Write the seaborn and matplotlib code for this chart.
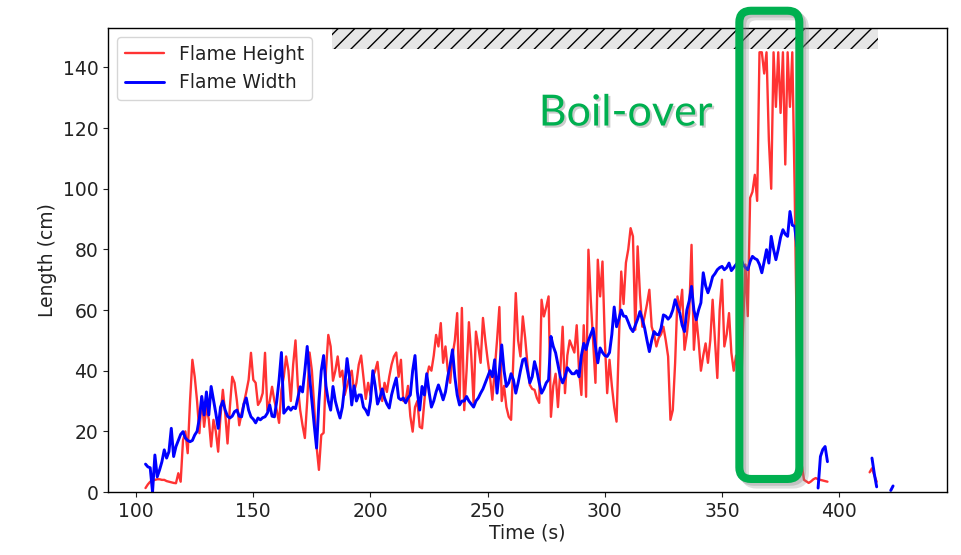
import numpy as np
import pandas as pd
import seaborn as sns
from matplotlib import pyplot as plt
from matplotlib import patheffects as pe
from matplotlib.patches import FancyBboxPatch, Rectangle
from matplotlib.lines import Line2D

# flame height (cm), one sample per second, segments split by gaps
height_a_start = 104
height_a = [1.3, 2.5, 3.4, 3.8, 4, 4.2,
            4.2, 4, 4, 3.6, 3.4, 3.2, 3, 2.9, 6.2, 3.4,
            17, 20, 12.8, 30, 43.6, 38, 30, 19.4, 31.5, 21.5,
            28, 24, 15, 23.8, 20, 13.3, 25, 33.7, 26, 16,
            28, 38, 36, 30, 22, 26, 29.4, 33, 37, 45.9,
            37, 36, 28.7, 30, 32.6, 45.9, 27, 30, 34.7, 30,
            27, 22.8, 33.7, 38, 44.7, 40, 30, 42, 50, 35,
            27, 22, 17.8, 30, 46, 40, 28, 15, 7.3, 18.8,
            19.5, 40, 51.8, 48, 36.7, 40, 44.7, 38, 40, 32,
            35, 38, 40, 33, 36, 42, 45, 38, 30.7, 36,
            32, 38, 40, 42.9, 35, 30, 36, 33, 38, 42,
            44.7, 46, 38, 43.6, 30, 30, 35, 25, 19.9, 28,
            30, 21.5, 21, 30, 38, 41.4, 40, 45, 51.8, 48,
            55.7, 42.6, 48, 40, 36, 45, 50, 59, 29.4, 60.7,
            27, 40, 56, 45, 29.4, 52.9, 48, 42.6, 57.4, 50,
            43.6, 38, 30.4, 40, 50, 61, 30, 35, 28, 24.8,
            23.8, 45, 65.6, 50, 44.7, 57.9, 50.8, 42, 35.3, 34,
            33.7, 31, 29.4, 63.4, 57.9, 61, 64.5, 24.8, 35, 39,
            28, 40, 54.5, 32.6, 45, 50, 48, 46, 55, 40,
            32, 55, 31.4, 79.9, 63.4, 50, 36, 76.6, 64.5, 76,
            50, 32.6, 43.6, 35, 28, 23.2, 50, 72.7, 62, 75.6,
            80, 87, 84.3, 53.5, 81, 65, 54.5, 58, 62, 66.7,
            54.5, 52, 48, 50.8, 52, 54.5, 50, 44.7, 23.8, 27,
            42.6, 64.5, 60, 66.7, 46.9, 52, 59, 81.5, 46.9, 57.9,
            50, 40, 45, 49, 42.6, 50, 63.4, 50, 37.6, 60,
            70, 48, 52, 59, 45.9, 40, 45, 38, 29, 55,
            75, 58, 97, 99, 104.6, 96, 145, 145, 138, 145,
            116, 100, 145, 127, 145, 125, 145, 108, 145, 127,
            145, 100, 45, 25, 9, 4, 3.5, 3, 3.5, 4.2,
            4.6, 4.2, 4, 3.8, 3.6, 3.4]
height_b_start = 413
height_b = [6.5, 7.8, 5.5, 3.4]

# flame width (cm)
width_a_start = 104
width_a = [9.2, 8.3, 8, 0, 12.2, 5,
           7.3, 10, 13.9, 11.2, 13.3, 21, 11.7, 15, 17, 19,
           19.9, 17.8, 17, 16.6, 17, 18.8, 20, 24.4, 31.5, 25.4,
           33, 25.4, 34.8, 30.4, 26, 21, 28, 30, 27, 25,
           24.4, 25, 26.5, 27, 25, 24.8, 29, 31, 27, 24.8,
           24, 22.8, 24.4, 23.8, 24.5, 24.8, 26, 28.7, 25, 24.8,
           30, 37, 46, 26, 27, 28, 27, 28, 27.5, 31,
           34.7, 33, 40, 48, 38, 30, 22, 14.5, 30, 40,
           45, 35, 30, 27, 34.8, 30, 27, 24.4, 28, 35,
           44, 38, 28.7, 35, 30, 32, 32, 28, 27, 25.4,
           30, 40, 35, 29, 31, 34, 31, 29, 27.7, 32,
           35, 37.6, 31, 30.4, 31, 29.4, 31, 32, 40, 45,
           33, 27, 34.8, 32, 39, 33, 28, 30, 33, 35.3,
           33, 30.4, 33, 38, 42, 46.9, 38, 32, 28.7, 30,
           30, 31.5, 30, 29, 28, 30, 31, 32.6, 34, 36,
           38, 40, 38, 43.6, 32.6, 40, 48.5, 40, 34.8, 36,
           39, 37, 32.6, 36, 40, 43.6, 44, 40, 36, 38,
           43, 40, 36, 32.6, 34, 36, 37, 51.3, 48, 45.9,
           42, 38, 36, 38, 41, 40, 39, 39, 40, 38,
           45, 49, 47, 50, 52, 54, 48, 42.6, 47.5, 46,
           45, 44.7, 46, 52, 61, 54.5, 57, 60, 58, 57.9,
           56, 54, 52.9, 55, 57, 59.5, 57, 54, 50, 46.3,
           50, 52.9, 52, 51.8, 54, 58.4, 58, 57, 57.9, 60,
           63.4, 61, 59, 55, 52.9, 60, 63, 67.8, 60, 56.8,
           60, 62.4, 72.3, 68, 65.7, 68, 71, 72, 73.3, 74,
           74.4, 73.3, 74, 75.5, 73, 74, 75, 76, 77.2, 75,
           74, 73.3, 76, 77.7, 77, 76.6, 75, 72.3, 76, 79.9,
           75.5, 84.3, 80, 76.6, 80, 84, 86.5, 85, 84.3, 92.5,
           88, 87.6, 81]
width_b_start = 391
width_b = [1.3, 11.7, 14, 15, 10]
width_c_start = 414
width_c = [11.2, 6, 1.7]
width_d_start = 422
width_d = [0.5, 2]

labels = ['Flame Height', 'Flame Width']
green = '#00b050'


def segment(start, values, name, seg):
    return pd.DataFrame({'time': np.arange(start, start + len(values)),
                         'length': values, 'series': name, 'segment': seg})


df = pd.concat([
    segment(height_a_start, height_a, 'height', 0),
    segment(height_b_start, height_b, 'height', 1),
    segment(width_a_start, width_a, 'width', 2),
    segment(width_b_start, width_b, 'width', 3),
    segment(width_c_start, width_c, 'width', 4),
    segment(width_d_start, width_d, 'width', 5),
])

sns.set_style('ticks')
plt.rcParams.update({'font.size': 13.5, 'axes.edgecolor': 'black',
                     'text.color': '#222222', 'axes.labelcolor': '#222222',
                     'xtick.color': '#222222', 'ytick.color': '#222222',
                     'axes.linewidth': 1.0})

fig = plt.figure(figsize=(9.61, 5.55), dpi=100)
ax = fig.add_axes([0.1124, 0.1135, 0.873, 0.836])

sns.lineplot(data=df[df['series'] == 'height'], x='time', y='length',
             units='segment', estimator=None, color='red', alpha=0.8,
             lw=1.7, ax=ax, legend=False)
sns.lineplot(data=df[df['series'] == 'width'], x='time', y='length',
             units='segment', estimator=None, color='blue',
             lw=2.1, ax=ax, legend=False)

ax.set_xlim(88, 446)
ax.set_ylim(0, 153)
ax.set_xlabel('Time (s)', labelpad=2)
ax.set_ylabel('Length (cm)')

# hatched band along the top
ax.add_patch(Rectangle((183.5, 146), 233, 10, facecolor='#e6e6e6',
                       edgecolor='black', hatch='//', lw=0, zorder=1))

handles = [Line2D([], [], color='red', alpha=0.8, lw=1.7),
           Line2D([], [], color='blue', lw=2.1)]
ax.legend(handles, labels, loc='upper left', handlelength=2.1, fontsize=13.5)

# boil-over highlight
box = FancyBboxPatch((357.4, 4.3), 25.6, 154.4,
                     boxstyle='round,pad=0,rounding_size=5',
                     mutation_aspect=0.77, facecolor='none',
                     edgecolor=green, lw=5.8, clip_on=False, zorder=6)
box.set_path_effects([pe.SimpleLineShadow(offset=(4, -4), shadow_color='gray', alpha=0.25),
                      pe.SimpleLineShadow(offset=(2, -2), shadow_color='gray', alpha=0.3),
                      pe.Normal()])
ax.add_patch(box)

ax.text(308.7, 124.8, 'Boil-over', color=green, fontsize=31, family='Lato',
        ha='center', va='center',
        path_effects=[pe.SimplePatchShadow(offset=(1.5, -1.5), shadow_rgbFace='gray', alpha=0.4),
                      pe.Normal()])

fig.savefig('out.png', dpi=100)
